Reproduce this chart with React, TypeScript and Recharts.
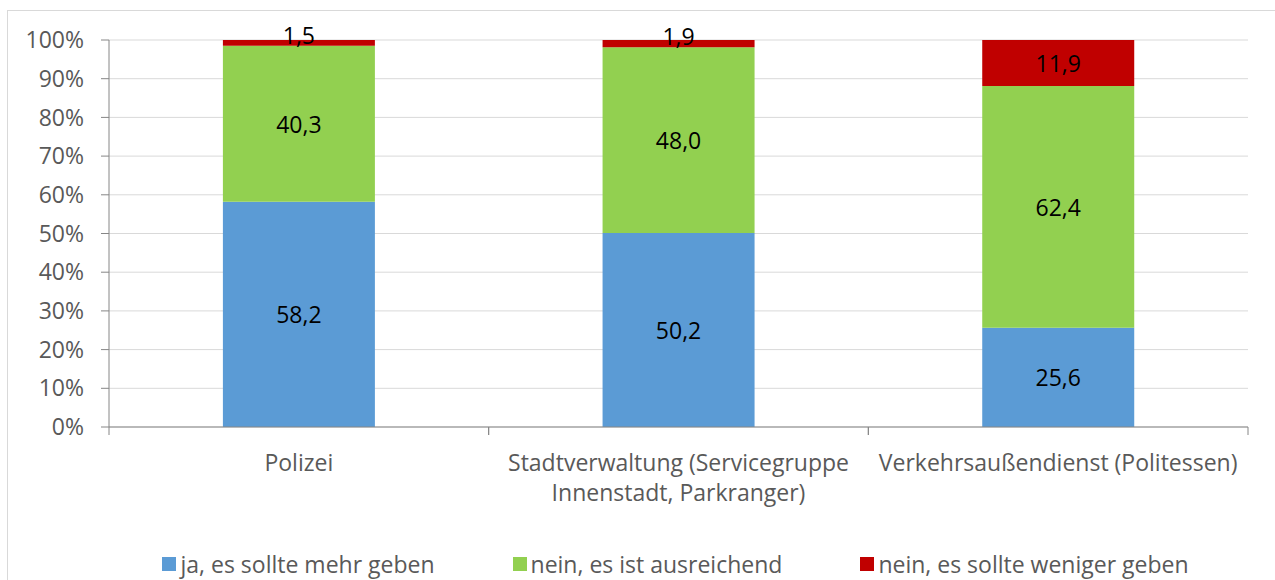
import React from 'react';
import {
  BarChart,
  Bar,
  XAxis,
  YAxis,
  CartesianGrid,
  Legend,
  LabelList,
} from 'recharts';

const categories = [
  'Polizei',
  'Stadtverwaltung (Servicegruppe Innenstadt, Parkranger)',
  'Verkehrsaußendienst (Politessen)',
];
const mehr = [58.2, 50.2, 25.6];
const ausreichend = [40.3, 48.0, 62.4];
const weniger = [1.5, 1.9, 11.9];
const yTicks = [0, 0.1, 0.2, 0.3, 0.4, 0.5, 0.6, 0.7, 0.8, 0.9, 1];

const SERIES = [
  { key: 'mehr', name: 'ja, es sollte mehr geben', color: '#5B9BD5' },
  { key: 'ausreichend', name: 'nein, es ist ausreichend', color: '#92D050' },
  { key: 'weniger', name: 'nein, es sollte weniger geben', color: '#C00000' },
];

const data = categories.map((name, i) => ({
  name,
  mehr: mehr[i],
  ausreichend: ausreichend[i],
  weniger: weniger[i],
}));

const FONT = '"Open Sans", sans-serif';
const FONT_SIZE = 23;
const AXIS_TEXT = '#595959';
const AXIS_LINE = '#868686';
const GRID = '#d9d9d9';

const fmt = (v: number) => v.toFixed(1).replace('.', ',');

// greedy word wrap by character count
function wrap(label: string, maxChars = 32): string[] {
  const lines: string[] = [];
  let cur = '';
  label.split(' ').forEach((w) => {
    const next = cur ? `${cur} ${w}` : w;
    if (next.length > maxChars && cur) {
      lines.push(cur);
      cur = w;
    } else {
      cur = next;
    }
  });
  if (cur) lines.push(cur);
  return lines;
}

const CategoryTick = (props: any) => {
  const { x, y, payload } = props;
  const half = payload?.offset ?? 190;
  const lines = wrap(String(payload.value));
  return (
    <g>
      <line x1={x - half} x2={x - half} y1={y - 8} y2={y} stroke={AXIS_LINE} />
      <line x1={x + half} x2={x + half} y1={y - 8} y2={y} stroke={AXIS_LINE} />
      <text
        x={x}
        y={y + 36}
        textAnchor="middle"
        fill={AXIS_TEXT}
        fontSize={FONT_SIZE}
        fontFamily={FONT}
      >
        {lines.map((l, i) => (
          <tspan key={i} x={x} dy={i === 0 ? 0 : 30}>
            {l}
          </tspan>
        ))}
      </text>
    </g>
  );
};

const SegmentLabel = (props: any) => {
  const { x, y, width, height, value } = props;
  const cy = height < 14 ? y + height / 2 - 8 : y + height / 2;
  return (
    <text
      x={x + width / 2}
      y={cy}
      textAnchor="middle"
      dominantBaseline="central"
      fill="#000"
      fontSize={FONT_SIZE}
      fontFamily={FONT}
    >
      {fmt(value)}
    </text>
  );
};

const LegendContent = () => (
  <div
    style={{
      display: 'flex',
      justifyContent: 'center',
      gap: 78,
      fontFamily: FONT,
      fontSize: FONT_SIZE,
      color: AXIS_TEXT,
      lineHeight: '28px',
    }}
  >
    {SERIES.map((s) => (
      <div key={s.key} style={{ display: 'flex', alignItems: 'center' }}>
        <span
          style={{
            display: 'inline-block',
            width: 14,
            height: 14,
            background: s.color,
            marginRight: 4,
          }}
        />
        <span>{s.name}</span>
      </div>
    ))}
  </div>
);

export default function App() {
  return (
    <div
      style={{
        position: 'absolute',
        left: 0,
        top: 0,
        width: 1275,
        height: 580,
        background: '#fff',
        overflow: 'hidden',
      }}
    >
      <div
        style={{
          position: 'absolute',
          left: 7,
          top: 10,
          width: 1300,
          height: 600,
          border: `1px solid ${GRID}`,
        }}
      />
      <BarChart
        width={1275}
        height={580}
        data={data}
        stackOffset="expand"
        barCategoryGap="30%"
        margin={{ top: 40, right: 27, left: 0, bottom: 0 }}
      >
        <CartesianGrid vertical={false} stroke={GRID} />
        <XAxis
          dataKey="name"
          interval={0}
          height={125}
          tickLine={false}
          axisLine={{ stroke: AXIS_LINE }}
          tick={<CategoryTick />}
        />
        <YAxis
          width={109}
          ticks={yTicks}
          domain={[0, 1]}
          tickFormatter={(v: number) => `${Math.round(v * 100)}%`}
          tick={{ fontSize: FONT_SIZE, fill: AXIS_TEXT, fontFamily: FONT }}
          tickSize={8}
          tickMargin={17}
          tickLine={{ stroke: AXIS_LINE }}
          axisLine={{ stroke: AXIS_LINE }}
        />
        <Legend
          verticalAlign="bottom"
          content={<LegendContent />}
          wrapperStyle={{ top: 550, left: 38, width: 1275 }}
        />
        {SERIES.map((s) => (
          <Bar
            key={s.key}
            dataKey={s.key}
            name={s.name}
            stackId="a"
            fill={s.color}
            isAnimationActive={false}
          >
            <LabelList dataKey={s.key} content={<SegmentLabel />} />
          </Bar>
        ))}
      </BarChart>
    </div>
  );
}
